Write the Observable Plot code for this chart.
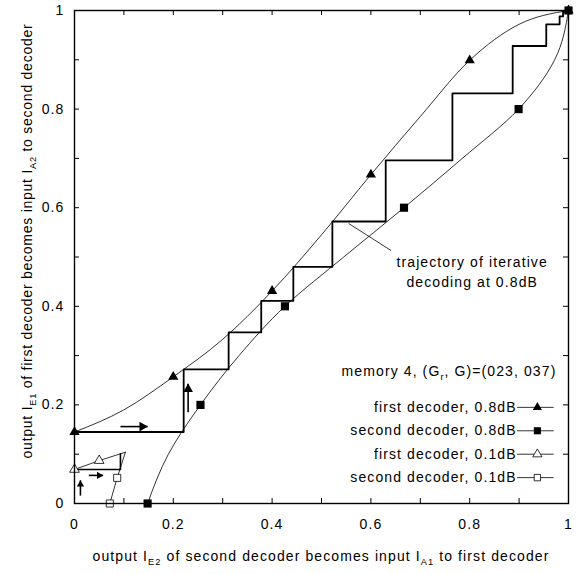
<!DOCTYPE html>
<html><head><meta charset="utf-8">
<script src="https://cdn.jsdelivr.net/npm/d3@7"></script>
<script src="https://cdn.jsdelivr.net/npm/@observablehq/plot@0.6"></script>
<style>body{margin:0;background:#fff;font-family:"Liberation Sans",Arial,sans-serif}</style>
</head><body><div id="chart"></div>
<script>
// ---- data ----
const iaGrid = [0, 0.1, 0.2, 0.3, 0.4, 0.5, 0.6, 0.7, 0.8, 0.9, 1];
const firstDecoder08 = [0.145, 0.19, 0.257, 0.333, 0.431, 0.545, 0.667, 0.785, 0.899, 0.972, 1];   // I_E1 vs I_A1
const secondDecoder08 = [0.148, 0.19, 0.255, 0.333, 0.426, 0.545, 0.667, 0.785, 0.899, 0.972, 1]; // I_E2 vs I_A2
const iaGrid01First = [0, 0.05, 0.103];
const firstDecoder01 = [0.069, 0.087, 0.104];
const iaGrid01Second = [0, 0.052, 0.104];
const secondDecoder01 = [0.0715, 0.0864, 0.103];
const traj08X = [0, 0.221, 0.312, 0.378, 0.443, 0.522, 0.630, 0.765, 0.887, 0.955, 0.982, 0.989];
const traj08Y = [0.145, 0.272, 0.347, 0.411, 0.480, 0.572, 0.696, 0.832, 0.928, 0.972, 0.988, 0.998];
const traj01X = [0, 0.093];
const traj01Y = [0.069, 0.101];
const hArrowX1 = [0.093, 0.029], hArrowX2 = [0.148, 0.058], hArrowY = [0.156, 0.057];
const vArrowX = [0.23, 0.012], vArrowY1 = [0.185, 0.016], vArrowY2 = [0.243, 0.047];
const tickValues = [0, 0.2, 0.4, 0.6, 0.8, 1];
const tickLabels = ["0", "0.2", "0.4", "0.6", "0.8", "1"];
const minorTicks = [0, 0.1, 0.2, 0.3, 0.4, 0.5, 0.6, 0.7, 0.8, 0.9, 1];
const legendLabels = ["first decoder, 0.8dB", "second decoder, 0.8dB", "first decoder, 0.1dB", "second decoder, 0.1dB"];
const legendSymbols = ["triangle", "square", "triangle", "square"];
const legendFills = ["black", "black", "white", "white"];
const annotationText = "trajectory of iterative\ndecoding at 0.8dB";

// ---- build tables ----
const curveFirst08 = iaGrid.map((x, i) => ({x, y: firstDecoder08[i], i}));
const curveSecond08 = iaGrid.map((y, i) => ({x: secondDecoder08[i], y, i}));
const curveFirst01 = iaGrid01First.map((x, i) => ({x, y: firstDecoder01[i], i}));
const curveSecond01 = iaGrid01Second.map((y, i) => ({x: secondDecoder01[i], y, i}));
function stairs(X, Y) {
  const pts = [{x: X[0], y: Y[0]}];
  for (let i = 1; i < X.length; i++) { pts.push({x: X[i], y: Y[i - 1]}); pts.push({x: X[i], y: Y[i]}); }
  return pts;
}
const stairs08 = stairs(traj08X, traj08Y);
const stairs01 = stairs(traj01X, traj01Y);

const W = 581, H = 574, mL = 74, mR = 13, mT = 10, mB = 71;
const pw = W - mL - mR, ph = H - mT - mB, tk = 5;
const LS = "1.1px";

const marks = [
  Plot.tickX(minorTicks, {x: d => d, insetTop: ph - tk, strokeWidth: 1}),
  Plot.tickX(minorTicks, {x: d => d, insetBottom: ph - tk, strokeWidth: 1}),
  Plot.tickY(minorTicks, {y: d => d, insetRight: pw - tk, strokeWidth: 1}),
  Plot.tickY(minorTicks, {y: d => d, insetLeft: pw - tk, strokeWidth: 1}),
  Plot.axisX(tickValues, {anchor: "bottom", tickSize: 0, tickPadding: 16, tickFormat: d => tickLabels[tickValues.indexOf(d)], label: null}),
  Plot.axisY(tickValues, {anchor: "left", tickSize: 0, tickPadding: 10, tickFormat: d => tickLabels[tickValues.indexOf(d)], label: null}),
  // curves
  Plot.line(curveFirst08, {x: "x", y: "y", stroke: "black", strokeWidth: 0.8, curve: "monotone-x"}),
  Plot.line(curveSecond08, {x: "x", y: "y", stroke: "black", strokeWidth: 0.8, curve: "monotone-y"}),
  Plot.line(curveFirst01, {x: "x", y: "y", stroke: "black", strokeWidth: 0.8}),
  Plot.line(curveSecond01, {x: "x", y: "y", stroke: "black", strokeWidth: 0.8}),
  // trajectories
  Plot.line(stairs08, {x: "x", y: "y", stroke: "black", strokeWidth: 1.8}),
  Plot.line(stairs01, {x: "x", y: "y", stroke: "black", strokeWidth: 1.6}),
  // markers
  Plot.dot(curveFirst08.filter(d => d.i % 2 === 0), {x: "x", y: "y", symbol: "triangle", r: 3.8, fill: "black"}),
  Plot.dot(curveSecond08.filter(d => d.i % 2 === 0), {x: "x", y: "y", symbol: "square", r: 4.6, fill: "black"}),
  Plot.dot(curveFirst01.filter(d => d.i < 2), {x: "x", y: "y", symbol: "triangle", r: 3.6, fill: "white", stroke: "black", strokeWidth: 0.8}),
  Plot.dot(curveSecond01.filter(d => d.i < 2), {x: "x", y: "y", symbol: "square", r: 4, fill: "white", stroke: "black", strokeWidth: 0.8}),
  // annotation
  Plot.link([0], {x1: () => 0.555, y1: () => 0.568, x2: () => 0.641, y2: () => 0.513, stroke: "black", strokeWidth: 0.8}),
  Plot.text([annotationText], {x: () => 0.805, y: () => 0.4725, text: d => d, textAnchor: "middle", lineAnchor: "middle", lineHeight: 1.43, fontSize: 14, fill: "black"}),
  Plot.frame({stroke: "black", strokeWidth: 1.4})
];
// arrows
hArrowX1.forEach((x1, i) => {
  const big = i === 0, r = big ? 3.6 : 2.7;
  marks.push(Plot.link([i], {x1: () => x1, x2: () => hArrowX2[i], y1: () => hArrowY[i], y2: () => hArrowY[i], stroke: "black", strokeWidth: 1.6}));
  marks.push(Plot.dot([i], {x: () => hArrowX2[i], y: () => hArrowY[i], symbol: "triangle", r, rotate: 90, dx: -r * 1.5, fill: "black"}));
});
vArrowX.forEach((x, i) => {
  const big = i === 0, r = big ? 3.6 : 2.7;
  marks.push(Plot.link([i], {x1: () => x, x2: () => x, y1: () => vArrowY1[i], y2: () => vArrowY2[i], stroke: "black", strokeWidth: 1.6}));
  marks.push(Plot.dot([i], {x: () => x, y: () => vArrowY2[i], symbol: "triangle", r, dy: r * 1.5, fill: "black"}));
});
// legend rows
const legTextX = 0.895, legLine1 = 0.896, legLine2 = 0.970, legMark = 0.937, legTop = 0.195, legStep = 0.0475;
legendLabels.forEach((lab, i) => {
  const y = legTop - i * legStep;
  marks.push(Plot.text([lab], {x: () => legTextX, y: () => y, text: d => d, textAnchor: "end", fontSize: 14, fill: "black"}));
  marks.push(Plot.link([i], {x1: () => legLine1, x2: () => legLine2, y1: () => y, y2: () => y, stroke: "black", strokeWidth: 0.8}));
  marks.push(Plot.dot([i], {x: () => legMark, y: () => y, symbol: legendSymbols[i], r: legendSymbols[i] === "square" ? (i === 1 ? 4 : 3.6) : 3.4,
    fill: legendFills[i], stroke: "black", strokeWidth: legendFills[i] === "white" ? 0.8 : 0}));
});

const plot = Plot.plot({
  width: W, height: H, marginLeft: mL, marginRight: mR, marginTop: mT, marginBottom: mB,
  x: {domain: [0, 1]}, y: {domain: [0, 1]},
  style: {fontFamily: "'Liberation Sans', Arial, sans-serif", fontSize: "14px", background: "white", color: "black", letterSpacing: LS},
  marks
});
document.getElementById("chart").appendChild(plot);

// labels with subscripts
const svg = d3.select(plot.tagName.toLowerCase() === "svg" ? plot : plot.querySelector("svg"));
function richText(x, y, rot, parts, ls = LS, size = 14) {
  const t = svg.append("text")
    .attr("transform", `translate(${x},${y}) rotate(${rot})`)
    .attr("text-anchor", "middle").attr("dy", "0.35em")
    .attr("font-family", "'Liberation Sans', Arial, sans-serif")
    .attr("letter-spacing", ls)
    .attr("font-size", size).attr("fill", "black");
  let shift = 0;
  parts.forEach(p => {
    if (typeof p === "string") { t.append("tspan").attr("dy", -shift).text(p); shift = 0; }
    else { t.append("tspan").attr("font-size", size * 0.66).attr("dy", 4).text(p.sub); shift = 4; }
  });
}
richText(321, 561, 0, ["output I", {sub: "E2"}, " of second decoder becomes input I", {sub: "A1"}, " to first decoder"]);
richText(32, 241, -90, ["output I", {sub: "E1"}, " of first decoder becomes input I", {sub: "A2"}, " to second decoder"], "0.75px");
richText(449, 376, 0, ["memory 4, (G", {sub: "r"}, ", G)=(023, 037)"]);
</script></body></html>
